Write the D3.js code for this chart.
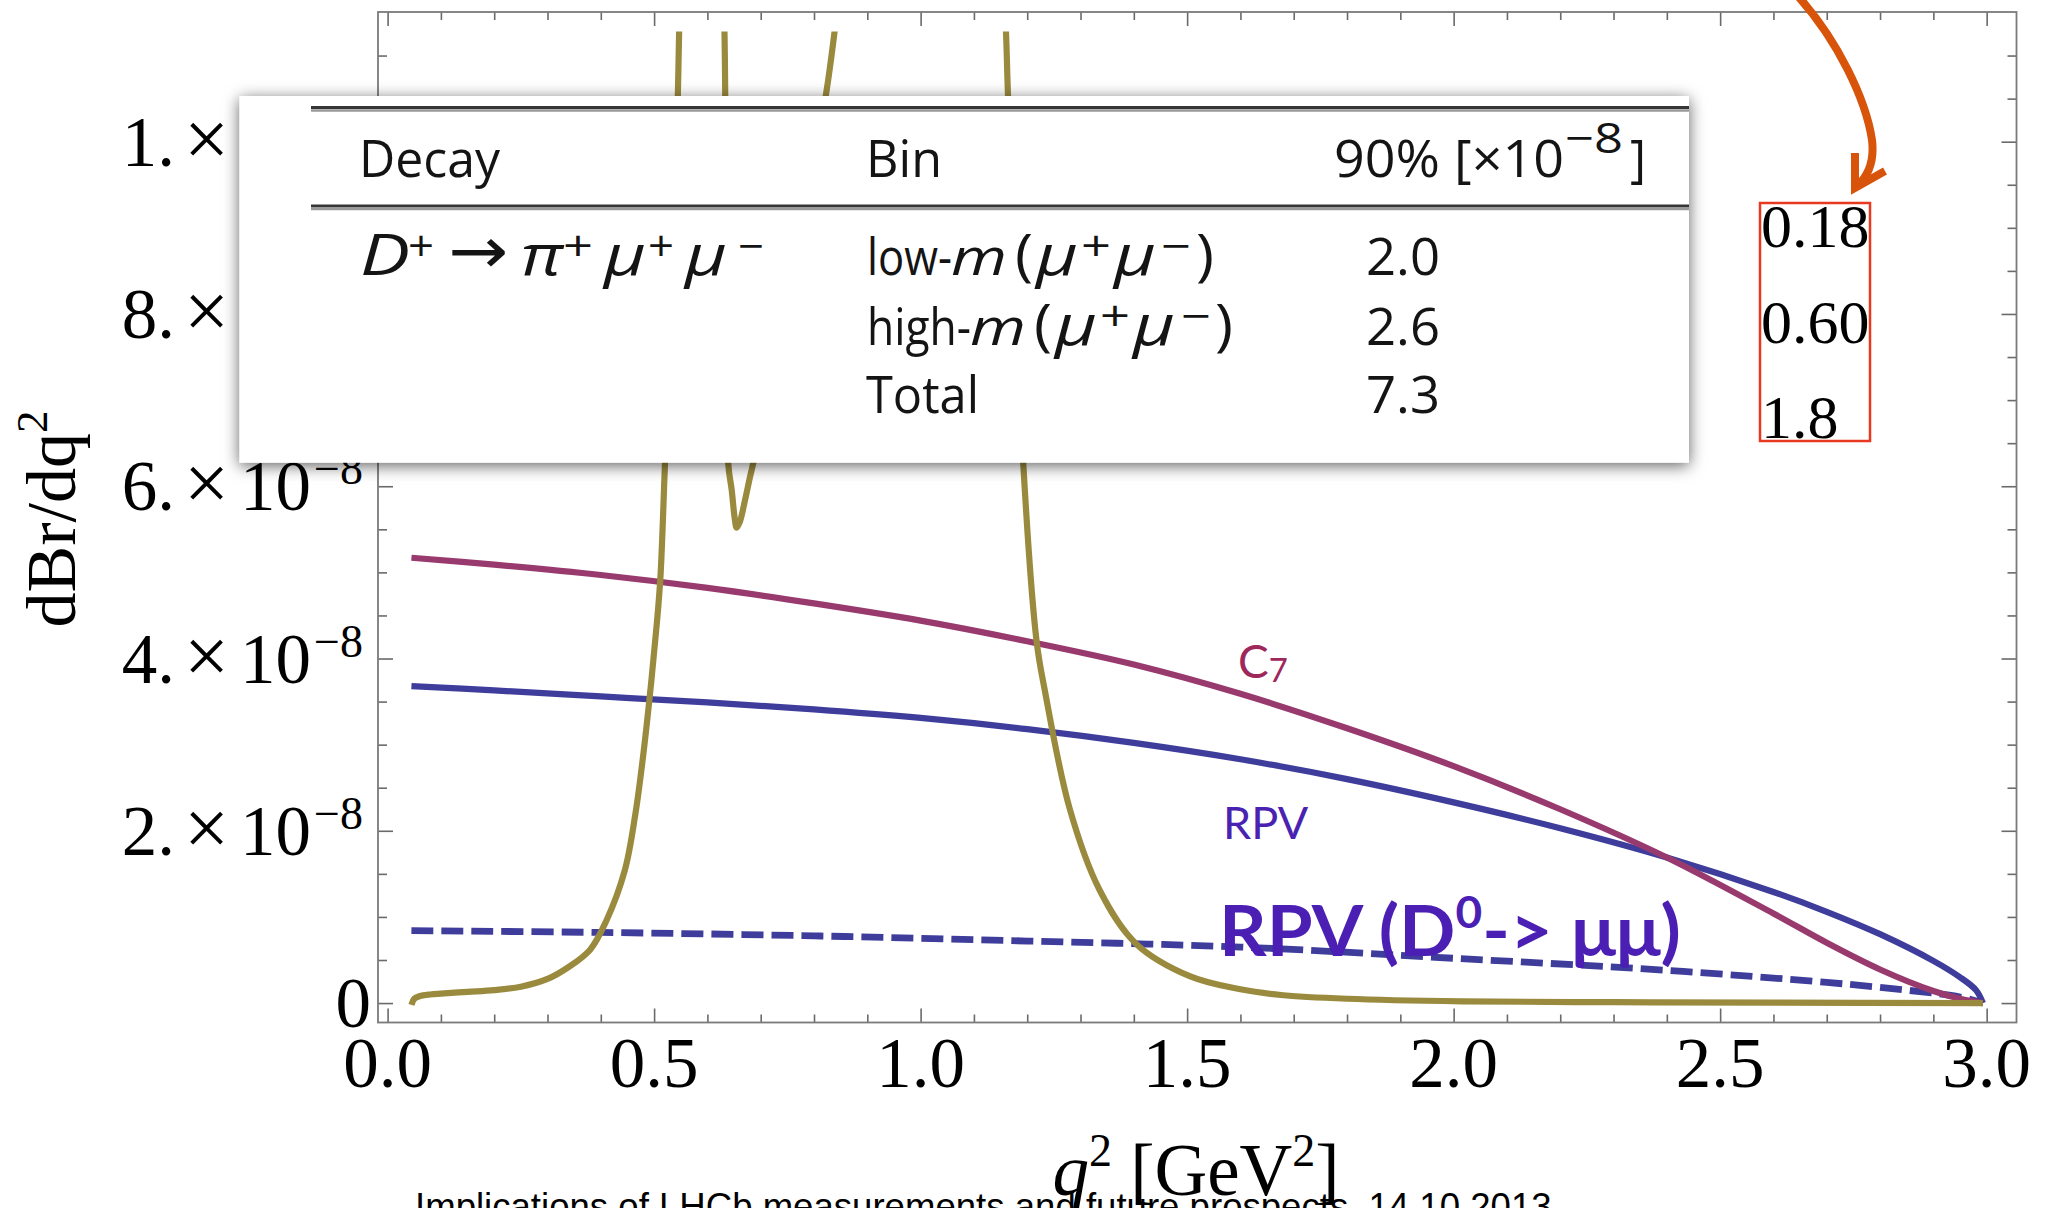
<!DOCTYPE html>
<html><head><meta charset="utf-8">
<script src="https://cdn.jsdelivr.net/npm/d3@7"></script>
<style>html,body{margin:0;padding:0;background:#fff;overflow:hidden}</style>
</head><body>
<svg id="chart" width="2047" height="1208" xmlns="http://www.w3.org/2000/svg"></svg>
<script>
// ---------------- data (branching ratio densities in units of 1e-8 GeV^-2) ----------------
const xTickValues = [0, 0.5, 1, 1.5, 2, 2.5, 3];
const xTickLabels = ["0.0", "0.5", "1.0", "1.5", "2.0", "2.5", "3.0"];
const yTickValues = [0, 2, 4, 6, 8, 10];
const yTickMantissa = ["0", "2.", "4.", "6.", "8.", "1."];
const yTickExponent = ["", "−8", "−8", "−8", "−8", "−7"];

const q2C7 = [0.0447, 0.2, 0.4, 0.6, 0.8, 1.0, 1.2, 1.4, 1.6, 1.8, 2.0, 2.2, 2.4, 2.6, 2.7, 2.8, 2.9, 2.95, 2.993];
const brC7 = [5.17, 5.09, 4.97, 4.82, 4.64, 4.44, 4.20, 3.93, 3.59, 3.19, 2.75, 2.25, 1.69, 1.04, 0.70, 0.39, 0.14, 0.05, 0.0];

const q2RPV = [0.0447, 0.2, 0.4, 0.6, 0.8, 1.0, 1.2, 1.4, 1.6, 1.8, 2.0, 2.2, 2.4, 2.6, 2.7, 2.8, 2.9, 2.95, 2.98, 2.993];
const brRPV = [3.68, 3.63, 3.56, 3.49, 3.41, 3.31, 3.18, 3.02, 2.83, 2.60, 2.33, 2.03, 1.69, 1.29, 1.06, 0.80, 0.49, 0.30, 0.15, 0.0];

const q2RPVD0 = [0.0447, 0.4, 0.8, 1.2, 1.6, 2.0, 2.4, 2.7, 2.85, 2.95, 2.993];
const brRPVD0 = [0.84, 0.82, 0.78, 0.72, 0.65, 0.52, 0.38, 0.24, 0.15, 0.07, 0.0];

const q2SM = [0.0447, 0.05, 0.06, 0.08, 0.1, 0.15, 0.2, 0.25, 0.3, 0.34, 0.38, 0.41, 0.445, 0.465, 0.48, 0.495,
  0.505, 0.512, 0.52, 0.53, 0.54, 0.5445, 0.547, 0.555, 0.575, 0.6, 0.62, 0.626, 0.632, 0.6335, 0.639,
  0.6455, 0.6516, 0.6548, 0.661, 0.6706, 0.68, 0.686, 0.72, 0.76, 0.8, 0.822, 0.839, 0.86, 0.95, 1.04,
  1.12, 1.15, 1.16, 1.164, 1.1925, 1.2176, 1.233, 1.28, 1.336, 1.404, 1.506, 1.6, 1.676, 1.8, 2.016, 2.3, 2.6, 2.993];
const brSM = [-0.02, 0.05, 0.08, 0.10, 0.11, 0.13, 0.15, 0.19, 0.28, 0.42, 0.62, 0.95, 1.54, 2.2, 2.9, 3.75,
  4.4, 4.96, 6.2, 7.8, 9.6, 10.53, 11.3, 13.5, 18, 18, 13.5, 13, 11.3, 10.5, 6.27,
  5.96, 5.61, 5.52, 5.59, 5.84, 6.11, 6.27, 7.3, 8.5, 9.8, 10.53, 11.3, 12.5, 16, 20,
  16, 12.5, 11.3, 10.53, 6.27, 4.2, 3.63, 2.25, 1.31, 0.69, 0.31, 0.16, 0.094, 0.05, 0.02, 0.01, 0.005, 0.0];

const tableHeader = ["Decay", "Bin", "90% [×10", "−8", "]"];
const decayParts = ["D", "+", "→", "π", "+", "μ", "+", "μ", "−"];
const binPrefix = ["low-", "high-"];
const binMass = ["m", "(", "μ", "+", "μ", "−", ")"];
const binTotal = "Total";
const tableLimits = ["2.0", "2.6", "7.3"];
const boxValues = ["0.18", "0.60", "1.8"];

// ---------------- layout ----------------
const svg = d3.select("#chart");
svg.append("rect").attr("width", 2047).attr("height", 1208).attr("fill", "#fff");

const FL = 378, FR = 2016.5, FT = 12, FB = 1022.5;
const x = d3.scaleLinear().domain([-0.018, 3.056]).range([FL, FR]);
const y = d3.scaleLinear().domain([-0.2256, 11.5056]).range([FB, FT]);
const yClipTop = 11.28;

const defs = svg.append("defs");
defs.append("clipPath").attr("id", "plotclip").append("rect")
  .attr("x", FL).attr("y", y(yClipTop)).attr("width", FR - FL).attr("height", FB - y(yClipTop));
const flt = defs.append("filter").attr("id", "shadow").attr("x", "-10%").attr("y", "-25%").attr("width", "120%").attr("height", "150%");
flt.append("feDropShadow").attr("dx", 0).attr("dy", 3).attr("stdDeviation", 8).attr("flood-color", "#000").attr("flood-opacity", 0.62);

// ---------------- frame & ticks ----------------
const tickColor = "#6a6a6a";
function styleAxis(g) {
  g.select(".domain").remove();
  g.selectAll(".tick line").attr("stroke", tickColor).attr("stroke-width", 1.6);
  g.selectAll(".tick text").remove();
}
const xMinor = d3.range(0, 31).map(i => i / 10).filter(v => !xTickValues.some(t => Math.abs(t - v) < 1e-9));
const yMinor = d3.range(0, 23).map(i => i / 2).filter(v => !yTickValues.includes(v));

svg.append("g").attr("transform", `translate(0,${FB})`).call(d3.axisBottom(x).tickValues(xTickValues).tickSize(-14)).call(styleAxis);
svg.append("g").attr("transform", `translate(0,${FB})`).call(d3.axisBottom(x).tickValues(xMinor).tickSize(-8)).call(styleAxis);
svg.append("g").attr("transform", `translate(0,${FT})`).call(d3.axisTop(x).tickValues(xTickValues).tickSize(-14)).call(styleAxis);
svg.append("g").attr("transform", `translate(0,${FT})`).call(d3.axisTop(x).tickValues(xMinor).tickSize(-8)).call(styleAxis);
svg.append("g").attr("transform", `translate(${FL},0)`).call(d3.axisLeft(y).tickValues(yTickValues).tickSize(-15)).call(styleAxis);
svg.append("g").attr("transform", `translate(${FL},0)`).call(d3.axisLeft(y).tickValues(yMinor).tickSize(-9)).call(styleAxis);
svg.append("g").attr("transform", `translate(${FR},0)`).call(d3.axisRight(y).tickValues(yTickValues).tickSize(-15)).call(styleAxis);
svg.append("g").attr("transform", `translate(${FR},0)`).call(d3.axisRight(y).tickValues(yMinor).tickSize(-9)).call(styleAxis);
svg.append("rect").attr("x", FL).attr("y", FT).attr("width", FR - FL).attr("height", FB - FT)
  .attr("fill", "none").attr("stroke", "#7a7a7a").attr("stroke-width", 1.8);

// tick labels
const serif = "'Liberation Serif','Times New Roman',Times,serif";
svg.append("g").selectAll("text").data(xTickValues).join("text")
  .attr("x", d => x(d)).attr("y", 1087).attr("text-anchor", "middle")
  .attr("font-family", serif).attr("font-size", 71).attr("fill", "#000")
  .text((d, i) => xTickLabels[i]);

const yl = svg.append("g").selectAll("text").data(yTickValues).join("text")
  .attr("x", (d, i) => i === 0 ? 371 : 363).attr("y", d => y(d) + 24).attr("text-anchor", "end")
  .attr("font-family", serif).attr("font-size", 71).attr("fill", "#000");
yl.each(function (d, i) {
  const t = d3.select(this);
  t.append("tspan").text(yTickMantissa[i]);
  if (yTickExponent[i]) {
    t.append("tspan").attr("dx", 9).attr("font-size", 80).text("×");
    t.append("tspan").attr("dx", 11).text("10");
    t.append("tspan").attr("dx", 3).attr("dy", -26).attr("font-size", 46).text(yTickExponent[i]);
  }
});

// axis titles
const yt = svg.append("text").attr("transform", "translate(75,519) rotate(-90)").attr("text-anchor", "middle")
  .attr("font-family", serif).attr("font-size", 70).attr("fill", "#000");
yt.append("tspan").text("dBr/dq");
yt.append("tspan").attr("dy", -28).attr("font-size", 45).text("2");

const xt = svg.append("text").attr("x", 1196).attr("y", 1195).attr("text-anchor", "middle")
  .attr("font-family", serif).attr("font-size", 73).attr("fill", "#000");
xt.append("tspan").attr("font-style", "italic").text("q");
xt.append("tspan").attr("dy", -29).attr("font-size", 46).text("2");
xt.append("tspan").attr("dy", 29).text(" [GeV");
xt.append("tspan").attr("dy", -29).attr("font-size", 46).text("2");
xt.append("tspan").attr("dy", 29).text("]");

// ---------------- curves ----------------
const line = d3.line().x(d => x(d[0])).y(d => y(d[1])).curve(d3.curveCatmullRom.alpha(0.5));
const plot = svg.append("g").attr("clip-path", "url(#plotclip)");
plot.append("path").datum(d3.zip(q2RPVD0, brRPVD0)).attr("d", line)
  .attr("fill", "none").attr("stroke", "#3e3d9c").attr("stroke-width", 6.8).attr("stroke-dasharray", "22,8");
plot.append("path").datum(d3.zip(q2RPV, brRPV)).attr("d", line)
  .attr("fill", "none").attr("stroke", "#3e3d9c").attr("stroke-width", 6.2).attr("stroke-linejoin", "round");
plot.append("path").datum(d3.zip(q2C7, brC7)).attr("d", line)
  .attr("fill", "none").attr("stroke", "#993a6e").attr("stroke-width", 6.2).attr("stroke-linejoin", "round");
plot.append("path").datum(d3.zip(q2SM, brSM)).attr("d", line)
  .attr("fill", "none").attr("stroke", "#9a8a3d").attr("stroke-width", 6.2).attr("stroke-linejoin", "round");

// curve labels
const sans = "Lato,'Open Sans','Noto Sans',sans-serif";
const c7 = svg.append("text").attr("x", 1238).attr("y", 678).attr("font-family", sans).attr("font-size", 46).attr("fill", "#9e285b");
c7.append("tspan").text("C");
c7.append("tspan").attr("dy", 4).attr("font-size", 33).text("7");
svg.append("text").attr("x", 1223).attr("y", 839).attr("font-family", sans).attr("font-size", 45).attr("fill", "#4a22b2").text("RPV");
const d0 = svg.append("text").attr("x", 1219).attr("y", 956).attr("font-family", sans).attr("font-weight", "bold")
  .attr("font-size", 71).attr("fill", "#4b1eb4").attr("textLength", 462).attr("lengthAdjust", "spacingAndGlyphs");
d0.append("tspan").text("RPV (D");
d0.append("tspan").attr("dy", -28).attr("font-size", 44).text("0");
d0.append("tspan").attr("dy", 28).text("-> μμ)");

// ---------------- table overlay ----------------
const tab = svg.append("g");
tab.append("rect").attr("x", 239.5).attr("y", 96).attr("width", 1449.5).attr("height", 366.7)
  .attr("fill", "#fff").attr("filter", "url(#shadow)");
[[107.5, 110.5], [206, 209]].forEach(([a, b]) => {
  tab.append("line").attr("x1", 311).attr("x2", 1689).attr("y1", a).attr("y2", a).attr("stroke", "#363636").attr("stroke-width", 3.2);
  tab.append("line").attr("x1", 311).attr("x2", 1689).attr("y1", b).attr("y2", b).attr("stroke", "#9a9a9a").attr("stroke-width", 2.5);
});
const tfont = "'Open Sans','Noto Sans',sans-serif";
const TS = 52;
function place(txt, px, py, o = {}) {
  const t = tab.append("text").attr("x", px).attr("y", py).attr("font-family", o.fam || tfont)
    .attr("font-size", o.size || TS).attr("fill", "#141414").attr("font-weight", 500).text(txt);
  if (o.it) t.attr("font-style", "italic");
  if (o.w) t.attr("textLength", o.w).attr("lengthAdjust", "spacingAndGlyphs");
  return t;
}
// header
place(tableHeader[0], 359, 177, { w: 141 });
place(tableHeader[1], 866, 177, { w: 76 });
place(tableHeader[2], 1334, 177, { w: 230 });
place(tableHeader[3], 1565, 153, { size: 42, w: 58 });
place(tableHeader[4], 1630, 177, { w: 16 });

// decay row
const rowY = [275, 345, 413];
const SUPDY = 14;
const decayX = [360, 408, 448, 521, 563, 604, 648, 685, 738];
const decayW = [50, 26, 0, 42, 30, 42, 26, 42, 26];
const decaySup = [false, true, false, false, true, false, true, false, true];
const decayIt = [true, false, false, true, false, true, false, true, false];
decayParts.forEach((s, i) => {
  if (i === 2) place(s, decayX[i], rowY[0] - 2, { size: 64, fam: "'DejaVu Sans',sans-serif", w: 60 });
  else place(s, decayX[i], decaySup[i] ? rowY[0] - SUPDY : rowY[0],
    { size: decaySup[i] ? 42 : 56, it: decayIt[i], w: decayW[i] });
});

// bin rows
const prefixW = [85, 104];
const massX = [[951, 1015, 1036, 1081, 1114, 1161, 1196], [970, 1034, 1055, 1100, 1133, 1181, 1215]];
const massW = [56, 18, 42, 30, 42, 30, 18];
const massSup = [false, false, false, true, false, true, false];
const massIt = [true, false, true, false, true, false, false];
binPrefix.forEach((p, r) => {
  place(p, 867, rowY[r], { w: prefixW[r] });
  binMass.forEach((s, i) => place(s, massX[r][i], massSup[i] ? rowY[r] - SUPDY : rowY[r],
    { size: massSup[i] ? 42 : (i === 0 ? 52 : 56), it: massIt[i], w: massW[i] }));
});
place(binTotal, 866, rowY[2], { w: 113 });
tableLimits.forEach((v, i) => place(v, 1366, rowY[i], { w: 74 }));

// ---------------- red box and arrow ----------------
svg.append("rect").attr("x", 1760).attr("y", 203).attr("width", 110).attr("height", 238)
  .attr("fill", "none").attr("stroke", "#e8381f").attr("stroke-width", 2.5);
const boxY = [247, 343, 438];
svg.append("g").selectAll("text").data(boxValues).join("text")
  .attr("x", 1761).attr("y", (d, i) => boxY[i]).attr("font-family", serif).attr("font-size", 62).attr("fill", "#000").text(d => d);

svg.append("path").attr("d", "M1796,-6 C1838,40 1866,100 1872,140 C1875,165 1866,178 1857,186")
  .attr("fill", "none").attr("stroke", "#d9540b").attr("stroke-width", 8).attr("stroke-linecap", "round");
svg.append("path").attr("d", "M1855,153 L1855,188 L1885,171")
  .attr("fill", "none").attr("stroke", "#d9540b").attr("stroke-width", 8).attr("stroke-linejoin", "miter");

// ---------------- footer ----------------
svg.append("text").attr("x", 415).attr("y", 1219).attr("font-family", "'Liberation Sans',Arial,sans-serif")
  .attr("font-size", 36.6).attr("fill", "#000").text("Implications of LHCb measurements and future prospects, 14.10.2013");
</script>
</body></html>
